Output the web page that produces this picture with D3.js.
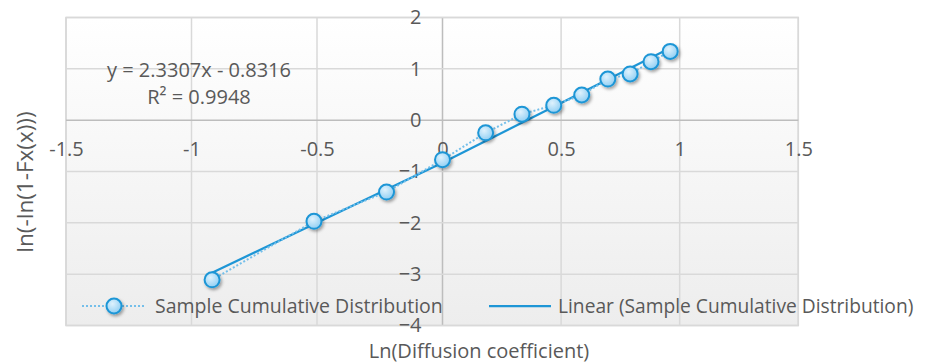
<!DOCTYPE html>
<html>
<head>
<meta charset="utf-8">
<script src="https://cdn.jsdelivr.net/npm/d3@7"></script>
<style>
  body { margin: 0; background: #fff; }
  svg text { font-family: "Open Sans", sans-serif; fill: #595959; }
</style>
</head>
<body>
<div id="chart"></div>
<script>
// sample points: x = ln(D), y = ln(-ln(1-F(x)))
const lnD = [-0.918, -0.512, -0.223, 0, 0.182, 0.335, 0.469, 0.587, 0.697, 0.791, 0.879, 0.96];
const lnF = [-3.11, -1.97, -1.40, -0.77, -0.247, 0.117, 0.29, 0.49, 0.80, 0.90, 1.14, 1.34];
const xTicks = [-1.5, -1, -0.5, 0, 0.5, 1, 1.5];
const yTicks = [-4, -3, -2, -1, 0, 1, 2];
const slope = 2.3307, intercept = -0.8316;
const eqLabel = "y = 2.3307x - 0.8316";
const r2Label = "R² = 0.9948";
const seriesName = "Sample Cumulative Distribution";
const trendName = "Linear (Sample Cumulative Distribution)";

(function () {
    const width = 951, height = 363;
    const svg = d3.select("#chart").append("svg").attr("width", width).attr("height", height);

    // left half of the picture is a bit wider than the right one
    const x = d3.scaleLinear().domain([-1.5, 0, 1.5]).range([66, 442.5, 798.3]);
    const y = d3.scaleLinear().domain([-4, 2]).range([325.5, 17.5]);

    const defs = svg.append("defs");
    const bg = defs.append("linearGradient").attr("id", "bg").attr("x1", 0).attr("y1", 0).attr("x2", 0).attr("y2", 1);
    bg.append("stop").attr("offset", "0%").attr("stop-color", "#ffffff");
    bg.append("stop").attr("offset", "100%").attr("stop-color", "#ededed");
    const mk = defs.append("radialGradient").attr("id", "mk").attr("cx", "40%").attr("cy", "35%").attr("r", "70%");
    mk.append("stop").attr("offset", "0%").attr("stop-color", "#dff2fd");
    mk.append("stop").attr("offset", "100%").attr("stop-color", "#8ccdf3");
    const sh = defs.append("filter").attr("id", "sh").attr("x", "-50%").attr("y", "-50%").attr("width", "200%").attr("height", "200%");
    sh.append("feDropShadow").attr("dx", 1.5).attr("dy", 2).attr("stdDeviation", 1.5).attr("flood-color", "#000").attr("flood-opacity", 0.35);

    // plot area
    svg.append("rect")
        .attr("x", x(-1.5)).attr("y", y(2))
        .attr("width", x(1.5) - x(-1.5)).attr("height", y(-4) - y(2))
        .attr("fill", "url(#bg)").attr("stroke", "#d4d4d4").attr("stroke-width", 1.5);

    const grid = svg.append("g");
    grid.selectAll(".vx").data(xTicks).enter().append("line")
        .attr("x1", d => x(d)).attr("x2", d => x(d))
        .attr("y1", y(2)).attr("y2", y(-4))
        .attr("stroke", d => d === 0 ? "#bdbdbd" : "#d9d9d9").attr("stroke-width", 1.5);
    grid.selectAll(".hy").data(yTicks).enter().append("line")
        .attr("x1", x(-1.5)).attr("x2", x(1.5))
        .attr("y1", d => y(d)).attr("y2", d => y(d))
        .attr("stroke", d => d === 0 ? "#bdbdbd" : "#d9d9d9").attr("stroke-width", 1.5);

    // axes, labels only
    const xAxis = svg.append("g").attr("transform", `translate(0,${y(0)})`)
        .call(d3.axisBottom(x).tickValues(xTicks).tickSize(0).tickPadding(22).tickFormat(d3.format("")));
    const yAxis = svg.append("g").attr("transform", `translate(${x(0)},0)`)
        .call(d3.axisLeft(y).tickValues(yTicks).tickSize(0).tickPadding(21).tickFormat(d3.format("")));
    [xAxis, yAxis].forEach(a => {
        a.select(".domain").remove();
        a.selectAll("text").attr("font-size", 20).attr("font-family", "Open Sans").style("fill", "#595959");
    });
    xAxis.selectAll("text").text(d => String(d));

    // trend line
    const tx = [d3.min(lnD), 0, d3.max(lnD)];
    svg.append("path")
        .attr("d", d3.line().x(d => x(d)).y(d => y(slope * d + intercept))(tx))
        .attr("fill", "none").attr("stroke", "#1e96d6").attr("stroke-width", 2.25);

    // series dotted line + markers
    const pts = lnD.map((d, i) => [d, lnF[i]]);
    svg.append("path")
        .attr("d", d3.line().x(d => x(d[0])).y(d => y(d[1]))(pts))
        .attr("fill", "none").attr("stroke", "#74bfea").attr("stroke-width", 2).attr("stroke-dasharray", "2,2");
    svg.append("g").selectAll("circle").data(pts).enter().append("circle")
        .attr("cx", d => x(d[0])).attr("cy", d => y(d[1])).attr("r", 7.5)
        .attr("fill", "url(#mk)").attr("stroke", "#1e96d6").attr("stroke-width", 2)
        .attr("filter", "url(#sh)");

    // equation
    svg.append("text").attr("x", 199).attr("y", 77).attr("text-anchor", "middle").attr("font-size", 20).text(eqLabel);
    svg.append("text").attr("x", 199).attr("y", 104).attr("text-anchor", "middle").attr("font-size", 20).text(r2Label);

    // legend
    const ly = 306;
    const leg = svg.append("g");
    leg.append("line").attr("x1", 82).attr("x2", 145).attr("y1", ly).attr("y2", ly)
        .attr("stroke", "#74bfea").attr("stroke-width", 2).attr("stroke-dasharray", "2,2");
    leg.append("circle").attr("cx", 114).attr("cy", ly).attr("r", 7.5)
        .attr("fill", "url(#mk)").attr("stroke", "#1e96d6").attr("stroke-width", 2).attr("filter", "url(#sh)");
    leg.append("text").attr("x", 155).attr("y", ly).attr("dy", "0.35em").attr("font-size", 19.5).text(seriesName);
    leg.append("line").attr("x1", 489).attr("x2", 551).attr("y1", ly).attr("y2", ly)
        .attr("stroke", "#1e96d6").attr("stroke-width", 2.25);
    leg.append("text").attr("x", 558).attr("y", ly).attr("dy", "0.35em").attr("font-size", 19.2).text(trendName);

    // axis titles
    svg.append("text").attr("x", 479).attr("y", 358).attr("text-anchor", "middle").attr("font-size", 20)
        .text("Ln(Diffusion coefficient)");
    svg.append("text").attr("transform", `translate(33,182) rotate(-90)`).attr("text-anchor", "middle")
        .attr("font-size", 22.5).text("ln(-ln(1-Fx(x)))");
})();
</script>
</body>
</html>
